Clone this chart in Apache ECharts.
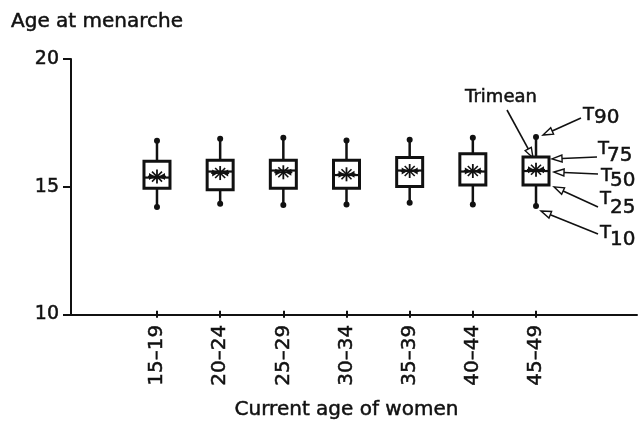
<!DOCTYPE html>
<html>
<head>
<meta charset="utf-8">
<script src="https://cdn.jsdelivr.net/npm/echarts@6/dist/echarts.min.js"></script>
<style>
  html, body { margin: 0; padding: 0; background: #fff; }
  #chart { width: 644px; height: 425px; }
</style>
</head>
<body>
<div id="chart"></div>
<script>
// age groups on the x axis
var ageGroups = ['15–19', '20–24', '25–29', '30–34', '35–39', '40–44', '45–49'];
// percentiles of age at menarche
var t10 = [14.12, 14.25, 14.20, 14.22, 14.29, 14.22, 14.16];
var t25 = [14.87, 14.81, 14.87, 14.87, 14.94, 15.00, 15.00];
var t50 = [15.29, 15.53, 15.57, 15.39, 15.57, 15.53, 15.55];
var t75 = [15.94, 15.98, 15.98, 15.98, 16.09, 16.24, 16.11];
var t90 = [16.75, 16.83, 16.87, 16.76, 16.79, 16.87, 16.90];
var trimean = [15.33, 15.47, 15.50, 15.42, 15.55, 15.55, 15.60];
var yTicks = [10, 15, 20];

var ink = '#111';
var font = 'DejaVu Sans';
// scanned print looks a bit heavier than a clean font
var heavy = { textBorderColor: ink, textBorderWidth: 0.5 };

var rows = ageGroups.map(function (g, i) {
  return [i, t10[i], t25[i], t50[i], t75[i], t90[i], trimean[i]];
});

var chart = echarts.init(document.getElementById('chart'));

function renderBox(params, api) {
  var i = api.value(0);
  var p10 = api.coord([i, api.value(1)]);
  var p25 = api.coord([i, api.value(2)]);
  var p50 = api.coord([i, api.value(3)]);
  var p75 = api.coord([i, api.value(4)]);
  var p90 = api.coord([i, api.value(5)]);
  var pt = api.coord([i, api.value(6)]);
  var x = p50[0], hw = 13;
  var cx = pt[0], cy = pt[1];
  var line = function (x1, y1, x2, y2, w) {
    return { type: 'line', shape: { x1: x1, y1: y1, x2: x2, y2: y2 }, style: { stroke: ink, lineWidth: w } };
  };
  var d = 5;
  return {
    type: 'group',
    children: [
      line(x, p10[1], x, p90[1], 2.5),
      { type: 'rect', shape: { x: x - hw, y: p75[1], width: hw * 2, height: p25[1] - p75[1] },
        style: { fill: '#fff', stroke: ink, lineWidth: 3 } },
      line(x - hw, p50[1], x + hw, p50[1], 2.2),
      { type: 'circle', shape: { cx: x, cy: p10[1], r: 3 }, style: { fill: ink } },
      { type: 'circle', shape: { cx: x, cy: p90[1], r: 3 }, style: { fill: ink } },
      // trimean star
      line(cx - 9, cy, cx + 9, cy, 1.8),
      line(cx, cy - 7, cx, cy + 7, 1.8),
      line(cx - d, cy - d, cx + d, cy + d, 1.6),
      line(cx - d, cy + d, cx + d, cy - d, 1.6),
      { type: 'polygon', shape: { points: [[cx - 2, cy], [cx - 8, cy - 3.5], [cx - 8, cy + 3.5]] }, style: { fill: ink } },
      { type: 'polygon', shape: { points: [[cx + 2, cy], [cx + 8, cy - 3.5], [cx + 8, cy + 3.5]] }, style: { fill: ink } }
    ]
  };
}

chart.setOption({
  backgroundColor: '#fff',
  animation: false,
  title: {
    text: 'Age at menarche',
    left: 11, top: 12, padding: 0,
    textStyle: Object.assign({ fontFamily: font, fontSize: 20, fontWeight: 'normal', color: ink }, heavy)
  },
  grid: [
    { left: 71, right: 7, top: 59, bottom: 110.5 },
    { left: 125.4, width: 442.2, top: 59, bottom: 110.5 }
  ],
  xAxis: [
    { type: 'value', gridIndex: 0, min: 0, max: 1,
      axisLine: { lineStyle: { color: ink, width: 2 } },
      axisTick: { show: false }, axisLabel: { show: false }, splitLine: { show: false } },
    { type: 'category', gridIndex: 1, data: ageGroups,
      axisLine: { show: false },
      axisTick: { show: true, alignWithLabel: true, length: 7, lineStyle: { color: ink, width: 2 } },
      axisLabel: Object.assign({ rotate: 90, margin: 14, fontFamily: font, fontSize: 20, color: ink }, heavy),
      name: 'Current age of women', nameLocation: 'middle', nameGap: 89,
      nameTextStyle: Object.assign({ fontFamily: font, fontSize: 20, color: ink }, heavy) }
  ],
  yAxis: [
    { type: 'value', gridIndex: 0, min: yTicks[0], max: yTicks[yTicks.length - 1], interval: 5,
      axisLine: { show: true, lineStyle: { color: ink, width: 2 } },
      axisTick: { show: true, length: 8, lineStyle: { color: ink, width: 2 } },
      axisLabel: Object.assign({ margin: 12, fontFamily: font, fontSize: 19, color: ink }, heavy),
      splitLine: { show: false } },
    { type: 'value', gridIndex: 1, min: 10, max: 20, show: false }
  ],
  series: [{
    type: 'custom',
    xAxisIndex: 1, yAxisIndex: 1,
    renderItem: renderBox,
    data: rows
  }]
});

// annotations on the last box
function px(v) {
  return chart.convertToPixel({ gridIndex: 1 }, [ageGroups.length - 1, v]);
}
function arrow(tail, tip) {
  var dx = tip[0] - tail[0], dy = tip[1] - tail[1];
  var len = Math.sqrt(dx * dx + dy * dy), ux = dx / len, uy = dy / len;
  var hl = 10, hw = 3.5;
  var bx = tip[0] - ux * hl, by = tip[1] - uy * hl;
  return [
    { type: 'line', shape: { x1: tail[0], y1: tail[1], x2: bx, y2: by }, style: { stroke: ink, lineWidth: 1.6 } },
    { type: 'polygon', shape: { points: [tip, [bx - uy * hw, by + ux * hw], [bx + uy * hw, by - ux * hw]] },
      style: { fill: '#fff', stroke: ink, lineWidth: 1.4 } }
  ];
}
function txt(s, x, y, size, align) {
  return { type: 'text', x: x, y: y,
    style: { text: s, font: size + 'px "' + font + '"', fill: ink, stroke: ink, lineWidth: 0.5,
      textAlign: align || 'left', textVerticalAlign: 'middle' } };
}
function label(t, sub, x, y, subDx, subDy) {
  return [txt(t, x, y, 18), txt(sub, x + subDx, y + subDy, 20)];
}

var last = ageGroups.length - 1;
var c90 = px(t90[last]), c75 = px(t75[last]), c50 = px(t50[last]);
var c25 = px(t25[last]), c10 = px(t10[last]), ct = px(trimean[last]);
var els = [];
els = els.concat(arrow([507, 110], [ct[0] - 3, ct[1] - 12]));
els = els.concat(arrow([581, 118], [c90[0] + 7, c90[1] - 2]));
els = els.concat(arrow([597, 157], [c75[0] + 16, c75[1] + 2]));
els = els.concat(arrow([598, 174], [c50[0] + 18, c50[1] + 1]));
els = els.concat(arrow([598, 207], [c25[0] + 18, c25[1] + 2]));
els = els.concat(arrow([598, 234], [c10[0] + 5, c10[1] + 5]));
els.push(txt('Trimean', 501, 97, 18, 'center'));
els = els.concat(label('T', '90', 583, 115, 11, 3));
els = els.concat(label('T', '75', 598, 149, 9, 7));
els = els.concat(label('T', '50', 601, 176, 9, 5));
els = els.concat(label('T', '25', 600, 199, 10, 9));
els = els.concat(label('T', '10', 600, 233, 10, 7));
chart.setOption({ graphic: { elements: els } });
</script>
</body>
</html>
